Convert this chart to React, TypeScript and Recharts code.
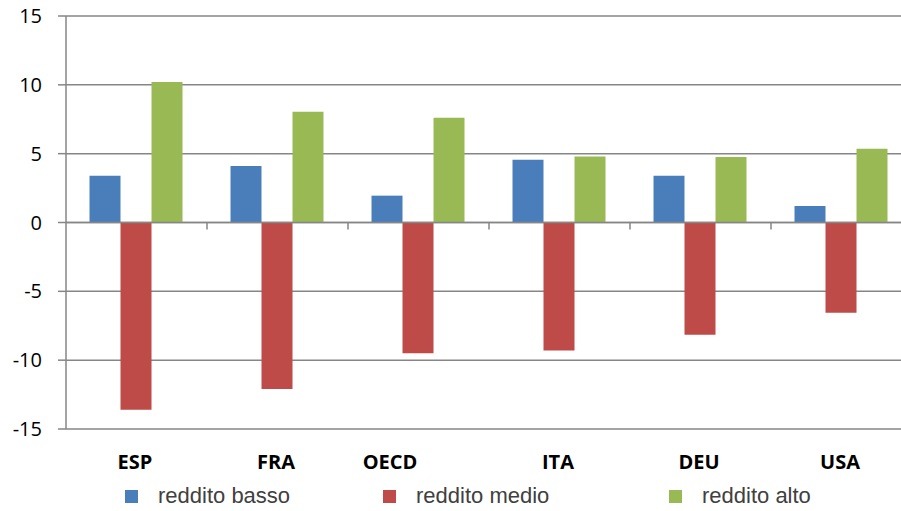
import React from "react";
import { BarChart, Bar, XAxis, YAxis, CartesianGrid, ReferenceLine, Legend } from "recharts";

const categories = ["ESP", "FRA", "OECD", "ITA", "DEU", "USA"];
const redditoBasso = [3.4, 4.1, 1.95, 4.55, 3.4, 1.2];
const redditoMedio = [-13.6, -12.1, -9.5, -9.3, -8.15, -6.55];
const redditoAlto = [10.2, 8.05, 7.6, 4.8, 4.75, 5.35];
const yTicks = [-15, -10, -5, 0, 5, 10, 15];

const seriesNames = ["reddito basso", "reddito medio", "reddito alto"];
const colors = ["#4A7EBB", "#BE4B48", "#98B954"];

const data = categories.map((c, i) => ({
  name: c,
  basso: redditoBasso[i],
  medio: redditoMedio[i],
  alto: redditoAlto[i],
}));

const GRID = "#868686";
const labelShift: Record<string, number> = { OECD: -27 };

const XTick = (props: any) => {
  const { x, y, payload } = props;
  const v = payload.value as string;
  return (
    <text
      x={x - 1.5 + (labelShift[v] || 0)}
      y={y}
      dy="0.71em"
      textAnchor="middle"
      fontFamily="'Open Sans', sans-serif"
      fontWeight="bold"
      fontSize={20}
      fill="#000"
    >
      {v}
    </text>
  );
};

const legendStarts = [125, 383, 669];

const LegendContent = () => (
  <div style={{ position: "relative", width: 920, height: 30 }}>
    {seriesNames.map((n, i) => (
      <div
        key={n}
        style={{
          position: "absolute",
          left: legendStarts[i],
          top: 0,
          height: 30,
          display: "flex",
          alignItems: "center",
          fontFamily: "'Liberation Sans', Arial, sans-serif",
          fontSize: 22,
          color: "#404040",
          whiteSpace: "nowrap",
        }}
      >
        <span style={{ display: "inline-block", width: 13, height: 13, background: colors[i], marginRight: 20 }} />
        <span>{n}</span>
      </div>
    ))}
  </div>
);

export default function App() {
  return (
    <div style={{ position: "absolute", left: 0, top: 0, width: 901, height: 511, overflow: "hidden", background: "#fff" }}>
      <BarChart
        width={920}
        height={511}
        data={data}
        margin={{ top: 16, right: 8, bottom: 0, left: 0 }}
        barCategoryGap="16.67%"
        barGap={0}
      >
        <CartesianGrid vertical={false} stroke={GRID} strokeWidth={1.5} />
        <XAxis
          dataKey="name"
          axisLine={false}
          tickLine={false}
          tickSize={0}
          tickMargin={26}
          height={52}
          tick={<XTick />}
          interval={0}
        />
        <YAxis
          domain={[-15, 15]}
          ticks={yTicks}
          width={66}
          interval={0}
          axisLine={{ stroke: GRID, strokeWidth: 1.5 }}
          tickLine={{ stroke: GRID, strokeWidth: 1.5 }}
          tickSize={8}
          tickMargin={16}
          tick={{ fill: "#000", fontSize: 20, fontFamily: "'Open Sans', sans-serif" }}
        />
        <Bar dataKey="basso" name={seriesNames[0]} fill={colors[0]} isAnimationActive={false} />
        <Bar dataKey="medio" name={seriesNames[1]} fill={colors[1]} isAnimationActive={false} />
        <Bar dataKey="alto" name={seriesNames[2]} fill={colors[2]} isAnimationActive={false} />
        <ReferenceLine y={0} stroke={GRID} strokeWidth={1.5} />
        {categories.slice(1).map((c) => (
          <ReferenceLine
            key={c}
            position="start"
            segment={[
              { x: c, y: 0 },
              { x: c, y: -0.5 },
            ]}
            stroke={GRID}
            strokeWidth={1.5}
          />
        ))}
        <Legend verticalAlign="bottom" content={<LegendContent />} wrapperStyle={{ left: 0, width: 920 }} />
      </BarChart>
    </div>
  );
}
